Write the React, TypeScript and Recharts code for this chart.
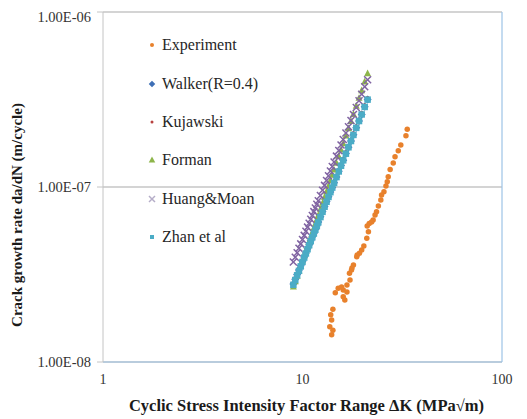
import React from 'react';
import { ScatterChart, Scatter, XAxis, YAxis, CartesianGrid, ReferenceLine, Legend } from 'recharts';

const FONT = "'Liberation Serif', 'Times New Roman', serif";

const xTicks = [1, 10, 100];
const xTickLabels = ['1', '10', '100'];
const yTicks = [1e-8, 1e-7, 1e-6];
const yTickLabels = ['1.00E-08', '1.00E-07', '1.00E-06'];

// Experiment
const expK = [33.5, 33.0, 31.1, 30.2, 29.1, 28.5, 27.5, 26.9, 26.6, 26.2, 25.6, 24.9, 24.7, 24.0, 23.5, 23.1, 22.6, 22.2, 21.6, 21.1, 21.4, 21.0, 20.3, 19.8, 19.3, 18.7, 18.0, 17.6, 17.2, 17.3, 16.7, 16.0, 15.1, 14.6, 16.0, 16.3, 14.2, 13.85, 14.0, 13.7, 14.2, 14.0, 15.7, 16.7, 17.7, 18.8];
const expRate = [2.14e-7, 1.96e-7, 1.74e-7, 1.61e-7, 1.49e-7, 1.37e-7, 1.26e-7, 1.145e-7, 1.07e-7, 1.013e-7, 9.4e-8, 9.0e-8, 8.43e-8, 7.79e-8, 7.23e-8, 6.92e-8, 6.48e-8, 6.31e-8, 6.19e-8, 5.99e-8, 5.55e-8, 5.09e-8, 4.6e-8, 4.37e-8, 4.18e-8, 4.0e-8, 3.58e-8, 3.36e-8, 3.21e-8, 2.94e-8, 2.75e-8, 2.58e-8, 2.64e-8, 2.49e-8, 2.36e-8, 2.26e-8, 2.0e-8, 1.86e-8, 1.74e-8, 1.59e-8, 1.52e-8, 1.43e-8, 2.68e-8, 2.51e-8, 3.44e-8, 4.09e-8];

// Models (shared ΔK values)
const modelK = [9.0, 9.2, 9.4, 9.6, 9.8, 10.0, 10.2, 10.4, 10.6, 10.8, 11.0, 11.2, 11.4, 11.6, 11.8, 12.0, 12.3, 12.6, 12.9, 13.2, 13.5, 13.8, 14.1, 14.4, 14.8, 15.2, 15.6, 16.0, 16.5, 17.0, 17.5, 18.0, 18.6, 19.2, 19.8, 20.5, 21.2];
const walkerRate = [2.79e-8, 2.97e-8, 3.16e-8, 3.35e-8, 3.55e-8, 3.76e-8, 3.98e-8, 4.2e-8, 4.44e-8, 4.68e-8, 4.93e-8, 5.19e-8, 5.45e-8, 5.73e-8, 6.01e-8, 6.31e-8, 6.76e-8, 7.24e-8, 7.74e-8, 8.26e-8, 8.8e-8, 9.37e-8, 9.95e-8, 1.057e-7, 1.142e-7, 1.23e-7, 1.325e-7, 1.423e-7, 1.553e-7, 1.689e-7, 1.834e-7, 1.987e-7, 2.18e-7, 2.385e-7, 2.6e-7, 2.87e-7, 3.16e-7];
const kujawskiRate = [2.85e-8, 3.04e-8, 3.23e-8, 3.43e-8, 3.63e-8, 3.85e-8, 4.07e-8, 4.3e-8, 4.54e-8, 4.79e-8, 5.05e-8, 5.31e-8, 5.58e-8, 5.86e-8, 6.15e-8, 6.46e-8, 6.92e-8, 7.41e-8, 7.92e-8, 8.45e-8, 9.01e-8, 9.59e-8, 1.018e-7, 1.082e-7, 1.169e-7, 1.259e-7, 1.356e-7, 1.457e-7, 1.59e-7, 1.729e-7, 1.877e-7, 2.034e-7, 2.232e-7, 2.441e-7, 2.662e-7, 2.938e-7, 3.235e-7];
const formanRate = [2.69e-8, 2.89e-8, 3.1e-8, 3.32e-8, 3.55e-8, 3.8e-8, 4.05e-8, 4.32e-8, 4.59e-8, 4.88e-8, 5.19e-8, 5.5e-8, 5.83e-8, 6.18e-8, 6.53e-8, 6.9e-8, 7.48e-8, 8.1e-8, 8.75e-8, 9.44e-8, 1.015e-7, 1.092e-7, 1.171e-7, 1.255e-7, 1.373e-7, 1.498e-7, 1.631e-7, 1.773e-7, 1.961e-7, 2.162e-7, 2.378e-7, 2.61e-7, 2.905e-7, 3.224e-7, 3.567e-7, 3.997e-7, 4.462e-7];
const huangRate = [3.73e-8, 3.97e-8, 4.21e-8, 4.47e-8, 4.73e-8, 5.01e-8, 5.29e-8, 5.59e-8, 5.9e-8, 6.21e-8, 6.54e-8, 6.88e-8, 7.23e-8, 7.59e-8, 7.96e-8, 8.34e-8, 8.94e-8, 9.57e-8, 1.022e-7, 1.09e-7, 1.16e-7, 1.234e-7, 1.31e-7, 1.391e-7, 1.501e-7, 1.617e-7, 1.739e-7, 1.867e-7, 2.035e-7, 2.212e-7, 2.399e-7, 2.597e-7, 2.846e-7, 3.111e-7, 3.392e-7, 3.738e-7, 4.105e-7];
const zhanRate = [2.76e-8, 2.94e-8, 3.13e-8, 3.32e-8, 3.52e-8, 3.73e-8, 3.95e-8, 4.17e-8, 4.41e-8, 4.65e-8, 4.9e-8, 5.16e-8, 5.42e-8, 5.7e-8, 5.98e-8, 6.28e-8, 6.73e-8, 7.21e-8, 7.71e-8, 8.23e-8, 8.77e-8, 9.34e-8, 9.92e-8, 1.054e-7, 1.139e-7, 1.227e-7, 1.322e-7, 1.42e-7, 1.55e-7, 1.686e-7, 1.831e-7, 1.984e-7, 2.177e-7, 2.382e-7, 2.597e-7, 2.867e-7, 3.157e-7];

const toPoints = (ks: number[], rs: number[]) => ks.map((k, i) => ({ k, r: rs[i] }));

type Kind = 'circle' | 'diamond' | 'dot' | 'triangle' | 'x' | 'square';

interface SeriesCfg {
  name: string;
  data: { k: number; r: number }[];
  color: string;
  legendColor: string;
  kind: Kind;
  size: number;
  legendSize: number;
}

const series: SeriesCfg[] = [
  { name: 'Experiment', data: toPoints(expK, expRate), color: '#E8812C', legendColor: '#E8812C', kind: 'circle', size: 5.5, legendSize: 4 },
  { name: 'Walker(R=0.4)', data: toPoints(modelK, walkerRate), color: '#3E6FB6', legendColor: '#3E6FB6', kind: 'diamond', size: 8, legendSize: 6.5 },
  { name: 'Kujawski', data: toPoints(modelK, kujawskiRate), color: '#B8423F', legendColor: '#B8423F', kind: 'dot', size: 3.5, legendSize: 3 },
  { name: 'Forman', data: toPoints(modelK, formanRate), color: '#8DB54A', legendColor: '#8DB54A', kind: 'triangle', size: 7, legendSize: 6.5 },
  { name: 'Huang&Moan', data: toPoints(modelK, huangRate), color: '#8064A2', legendColor: '#B5ADC8', kind: 'x', size: 7, legendSize: 6 },
  { name: 'Zhan et al', data: toPoints(modelK, zhanRate), color: '#4BACC6', legendColor: '#4BACC6', kind: 'square', size: 6.5, legendSize: 4 },
];

function Marker({ kind, cx, cy, color, s }: { kind: Kind; cx: number; cy: number; color: string; s: number }) {
  if (cx == null || cy == null || isNaN(cx) || isNaN(cy)) return null;
  const h = s / 2;
  switch (kind) {
    case 'circle':
    case 'dot':
      return <circle cx={cx} cy={cy} r={h} fill={color} />;
    case 'diamond':
      return <polygon points={`${cx},${cy - h} ${cx + h},${cy} ${cx},${cy + h} ${cx - h},${cy}`} fill={color} />;
    case 'triangle':
      return <polygon points={`${cx},${cy - h * 1.1} ${cx + h},${cy + h * 0.8} ${cx - h},${cy + h * 0.8}`} fill={color} />;
    case 'square':
      return <rect x={cx - h} y={cy - h} width={s} height={s} fill={color} />;
    case 'x':
      return (
        <g stroke={color} strokeWidth={1.5}>
          <line x1={cx - h} y1={cy - h} x2={cx + h} y2={cy + h} />
          <line x1={cx - h} y1={cy + h} x2={cx + h} y2={cy - h} />
        </g>
      );
    default:
      return null;
  }
}

function YTitle(props: any) {
  const vb = props.viewBox || { x: 0, y: 4, width: 95, height: 350 };
  const x = vb.x + 8.5;
  const y = vb.y + vb.height / 2 + 28;
  return (
    <text x={x} y={y} transform={`rotate(-90 ${x} ${y})`} textAnchor="middle" dominantBaseline="central"
      style={{ fontFamily: FONT, fontSize: 15, fontWeight: 'bold', fill: '#1a1a1a' }}>
      Crack growth rate da/dN (m/cycle)
    </text>
  );
}

function XTitle(props: any) {
  const vb = props.viewBox || { x: 95, y: 354, width: 399, height: 57 };
  const x = vb.x + vb.width / 2 + 4;
  const y = vb.y + 43;
  return (
    <text x={x} y={y} textAnchor="middle" dominantBaseline="central"
      style={{ fontFamily: FONT, fontSize: 16.5, fontWeight: 'bold', fill: '#1a1a1a' }}>
      Cyclic Stress Intensity Factor Range ΔK (MPa√m)
    </text>
  );
}

function LegendContent() {
  return (
    <div style={{ fontFamily: FONT, fontSize: 16, color: '#262626' }}>
      {series.map((s) => (
        <div key={s.name} style={{ height: 38.4, display: 'flex', alignItems: 'center', whiteSpace: 'nowrap' }}>
          <svg width={12} height={12} style={{ display: 'block' }}>
            <Marker kind={s.kind} cx={6} cy={6} color={s.legendColor} s={s.legendSize} />
          </svg>
          <span style={{ marginLeft: 4 }}>{s.name}</span>
        </div>
      ))}
    </div>
  );
}

export default function App() {
  return (
    <div style={{ width: 519, height: 411 }}>
      <ScatterChart width={519} height={411} margin={{ top: 4, right: 25, bottom: 0, left: 0 }}>
        <CartesianGrid vertical={false} stroke="#A9A9A9" />
        <XAxis
          type="number"
          dataKey="k"
          scale="log"
          domain={[1, 100]}
          ticks={xTicks}
          allowDataOverflow
          height={57}
          axisLine={{ stroke: '#9DC3E6', strokeWidth: 1.2 }}
          tickLine={false}
          tickSize={6}
          tickMargin={6}
          tickFormatter={(v: number) => xTickLabels[xTicks.indexOf(v)] ?? String(v)}
          tick={{ fill: '#333333', fontSize: 14, style: { fontFamily: FONT } }}
          label={<XTitle />}
        />
        <YAxis
          type="number"
          dataKey="r"
          scale="log"
          domain={[1e-8, 1e-6]}
          ticks={yTicks}
          allowDataOverflow
          width={95}
          axisLine={{ stroke: '#C4C4C4' }}
          tickLine={{ stroke: '#C4C4C4' }}
          tickSize={6}
          tickMargin={6}
          tickFormatter={(v: number) => yTickLabels[yTicks.indexOf(v)] ?? String(v)}
          tick={{ fill: '#333333', fontSize: 14.5, style: { fontFamily: FONT } }}
          label={<YTitle />}
        />
        <ReferenceLine x={100} stroke="#9DC3E6" strokeWidth={1.2} />
        <Legend
          layout="vertical"
          align="center"
          verticalAlign="middle"
          wrapperStyle={{ left: 138, top: 18, width: 160 }}
          content={() => <LegendContent />}
        />
        {series.map((s) => (
          <Scatter
            key={s.name}
            name={s.name}
            data={s.data}
            fill={s.color}
            isAnimationActive={false}
            shape={(p: any) => <Marker kind={s.kind} cx={p.cx} cy={p.cy} color={s.color} s={s.size} />}
          />
        ))}
      </ScatterChart>
    </div>
  );
}
